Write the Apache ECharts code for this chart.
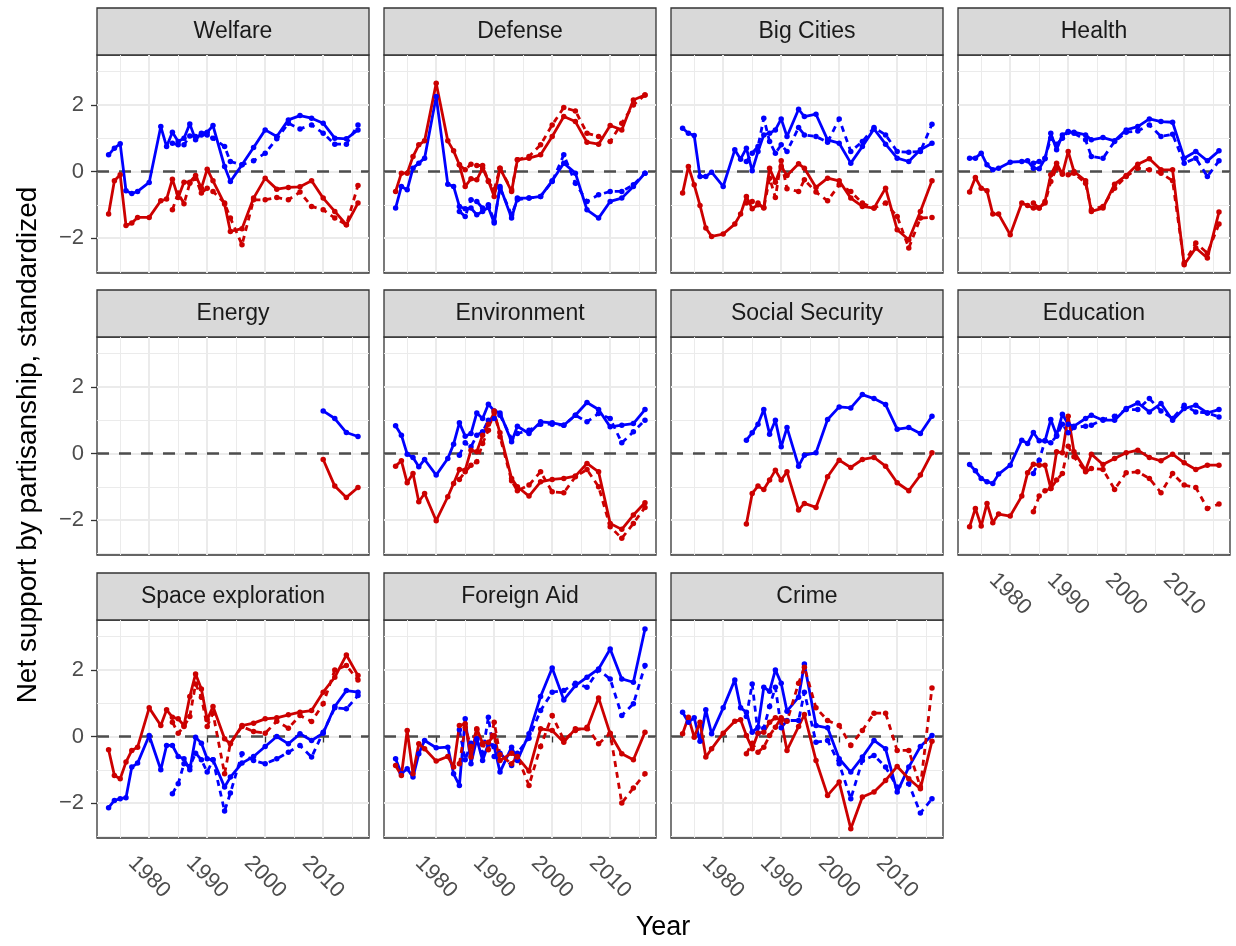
<!DOCTYPE html>
<html>
<head>
<meta charset="utf-8">
<script src="https://cdn.jsdelivr.net/npm/echarts@6/dist/echarts.min.js"></script>
<style>
  html, body { margin: 0; padding: 0; background: #ffffff; }
  #chart { width: 1236px; height: 946px; }
</style>
</head>
<body>
<div id="chart"></div>
<script>
// Survey years (main wording) and years with the alternate wording
const years = [1973,1974,1975,1976,1977,1978,1980,1982,1983,1984,1985,1986,1987,1988,1989,1990,1991,1993,1994,1996,1998,2000,2002,2004,2006,2008,2010,2012,2014,2016];
const altYears = [1984,1985,1986,1987,1988,1989,1990,1991,1993,1994,1996,1998,2000,2002,2004,2006,2008,2010,2012,2014,2016];
const energyYears = [2010,2012,2014,2016];
const socialSecurityYears = [1984,1985,1986,1987,1988,1989,1990,1991,1993,1994,1996,1998,2000,2002,2004,2006,2008,2010,2012,2014,2016];

// Tick labels
const xTickYears = [1980,1990,2000,2010];
const xMinorYears = [1975,1985,1995,2005,2015];
const yTicks = [-2,0,2];
const yMinorTicks = [-3,-1,1,3];

// Welfare
const welfareDem = [0.5,0.7,0.83,-0.58,-0.66,-0.6,-0.33,1.35,0.75,1.18,0.9,1.0,1.43,0.95,1.15,1.18,1.38,0.15,-0.3,0.2,0.72,1.25,1.05,1.55,1.68,1.6,1.45,1.0,0.98,1.25];
const welfareDemAlt = [0.85,0.8,0.8,1.07,1.05,1.1,1.1,1.0,0.75,0.3,0.2,0.32,0.55,0.98,1.45,1.28,1.4,1.15,0.82,0.82,1.4];
const welfareRep = [-1.28,-0.28,-0.1,-1.62,-1.55,-1.38,-1.38,-0.88,-0.83,-0.23,-0.78,-0.32,-0.32,-0.12,-0.5,0.07,-0.28,-0.98,-1.8,-1.72,-0.8,-0.2,-0.53,-0.48,-0.46,-0.28,-0.8,-1.2,-1.6,-0.95];
const welfareRepAlt = [-1.15,-0.65,-0.97,-0.35,-0.2,-0.65,-0.5,-0.6,-0.95,-1.4,-2.2,-0.85,-0.85,-0.78,-0.85,-0.62,-1.05,-1.15,-1.4,-1.6,-0.42];

// Defense
const defenseDem = [-1.1,-0.45,-0.55,0.1,0.25,0.4,2.25,-0.38,-0.45,-1.05,-1.12,-1.1,-1.3,-1.2,-1.08,-1.55,-0.45,-1.4,-0.8,-0.8,-0.75,-0.28,0.25,-0.05,-1.15,-1.4,-0.9,-0.8,-0.45,-0.05];
const defenseDemAlt = [-1.2,-1.35,-0.85,-0.9,-1.1,-1.0,-1.5,-0.5,-1.3,-0.85,-0.8,-0.75,-0.3,0.5,-0.35,-0.9,-0.7,-0.6,-0.6,-0.4,-0.05];
const defenseRep = [-0.6,-0.05,-0.05,0.45,0.8,0.92,2.65,0.92,0.62,0.2,-0.45,-0.22,-0.25,0.1,-0.28,-0.75,0.1,-0.6,0.35,0.4,0.5,1.05,1.65,1.5,0.88,0.82,1.38,1.25,2.15,2.3];
const defenseRepAlt = [0.2,0.05,0.22,0.18,0.18,-0.3,-0.55,0.1,-0.55,0.35,0.45,0.8,1.4,1.92,1.82,1.15,1.05,0.9,1.45,2.0,2.3];

// Big Cities
const bigCitiesDem = [1.3,1.15,1.08,-0.15,-0.15,-0.02,-0.45,0.65,0.37,0.7,0.02,0.6,1.1,1.15,1.25,1.58,1.05,1.87,1.65,1.72,0.95,0.85,0.25,0.75,1.28,0.82,0.4,0.3,0.65,0.85];
const bigCitiesDemAlt = [0.3,0.55,0.75,1.6,0.9,0.55,0.8,0.6,1.32,1.1,1.05,0.88,1.58,0.6,0.9,1.32,1.1,0.6,0.58,0.6,1.42];
const bigCitiesRep = [-0.65,0.15,-0.4,-1.02,-1.7,-1.95,-1.88,-1.58,-1.28,-0.75,-1.12,-1.0,-1.08,0.1,-0.32,0.15,-0.12,0.23,0.1,-0.48,-0.2,-0.28,-0.8,-1.05,-1.1,-0.5,-1.75,-2.05,-1.2,-0.28];
const bigCitiesRepAlt = [-0.95,-0.9,-0.95,-1.1,-0.2,-0.78,0.32,-0.52,-0.6,-0.25,-0.62,-0.88,-0.4,-0.6,-0.95,-1.1,-0.95,-1.35,-2.3,-1.4,-1.38];

// Health
const healthDem = [0.4,0.4,0.55,0.2,0.05,0.1,0.28,0.3,0.32,0.1,0.08,0.38,1.15,0.65,1.1,1.18,1.18,1.1,0.95,1.02,0.92,1.25,1.35,1.58,1.5,1.48,0.4,0.6,0.32,0.62];
const healthDemAlt = [0.25,0.3,0.4,1.0,0.82,1.0,1.2,1.15,0.95,0.45,0.4,0.9,1.18,1.22,1.4,1.05,1.12,0.25,0.4,-0.15,0.32];
const healthRep = [-0.62,-0.18,-0.5,-0.58,-1.28,-1.28,-1.9,-0.95,-1.02,-1.1,-1.1,-0.9,-0.1,0.25,-0.08,0.6,0.0,-0.28,-1.2,-1.1,-0.38,-0.12,0.22,0.38,0.05,0.05,-2.8,-2.3,-2.6,-1.22];
const healthRepAlt = [-0.95,-1.1,-0.95,-0.3,0.1,-0.05,-0.1,-0.05,-0.35,-1.15,-1.05,-0.5,-0.15,0.1,0.05,-0.05,-0.28,-2.75,-2.15,-2.45,-1.58];

// Energy
const energyDem = [1.28,1.05,0.63,0.51];
const energyRep = [-0.18,-0.98,-1.32,-1.02];

// Environment
const environmentDem = [0.83,0.55,-0.02,-0.12,-0.4,-0.18,-0.65,-0.15,0.28,0.92,0.52,0.6,1.22,1.05,1.48,1.28,1.22,0.35,0.82,0.6,0.95,0.92,0.85,1.15,1.53,1.32,0.8,0.85,0.9,1.32];
const environmentDemAlt = [-0.05,0.32,0.2,0.55,0.65,1.0,1.05,1.15,0.45,0.6,0.7,0.88,0.88,0.85,1.15,0.95,1.2,1.05,0.32,0.65,1.0];
const environmentRep = [-0.38,-0.22,-0.88,-0.6,-1.45,-1.2,-2.02,-1.3,-0.9,-0.48,-0.5,0.1,0.05,0.55,0.88,1.22,0.62,-0.75,-1.0,-1.28,-0.85,-0.78,-0.75,-0.68,-0.3,-0.55,-2.1,-2.28,-1.85,-1.48];
const environmentRepAlt = [-0.78,-0.55,-0.35,-0.25,0.3,0.7,1.28,0.5,-0.82,-1.12,-0.95,-0.55,-1.15,-1.18,-0.7,-0.48,-1.0,-2.2,-2.55,-2.1,-1.62];

// Social Security
const socialSecurityDem = [0.4,0.62,0.88,1.32,0.58,1.0,0.2,0.78,-0.38,-0.05,0.02,1.02,1.4,1.37,1.77,1.65,1.47,0.73,0.78,0.6,1.12];
const socialSecurityRep = [-2.12,-1.2,-0.98,-1.08,-0.8,-0.5,-0.8,-0.55,-1.7,-1.5,-1.62,-0.7,-0.2,-0.42,-0.18,-0.12,-0.38,-0.88,-1.12,-0.65,0.02];

// Education
const educationDem = [-0.33,-0.52,-0.75,-0.85,-0.9,-0.62,-0.35,0.4,0.3,0.63,0.38,0.38,1.02,0.55,1.18,0.88,0.82,1.05,1.15,1.0,1.0,1.35,1.52,1.25,1.5,1.0,1.35,1.45,1.22,1.32];
const educationDemAlt = [-0.6,-0.2,0.38,0.32,0.52,0.88,0.62,0.78,0.82,0.85,1.02,1.12,1.32,1.32,1.65,1.28,1.05,1.45,1.25,1.22,1.1];
const educationRep = [-2.2,-1.65,-2.18,-1.5,-2.08,-1.82,-1.88,-1.28,-0.58,-0.32,-0.35,-0.35,-1.05,0.05,0.02,1.12,0.05,-0.5,-0.02,-0.33,-0.15,0.02,0.1,-0.12,-0.22,-0.02,-0.28,-0.48,-0.35,-0.35];
const educationRepAlt = [-1.75,-1.28,-1.12,-1.05,-0.8,-0.6,0.22,-0.1,-0.55,-0.45,-0.48,-1.08,-0.58,-0.55,-0.75,-1.18,-0.6,-0.95,-1.02,-1.65,-1.52];

// Space exploration
const spaceDem = [-2.14,-1.92,-1.87,-1.84,-0.92,-0.8,0.03,-1.0,-0.27,-0.27,-0.6,-0.67,-1.0,-0.02,-0.2,-0.67,-0.7,-1.52,-1.22,-0.8,-0.6,-0.3,0.0,-0.22,0.08,-0.12,0.1,0.9,1.38,1.33];
const spaceDemAlt = [-1.72,-1.42,-0.82,-0.9,-0.5,-0.7,-1.07,-0.7,-2.24,-1.7,-0.52,-0.72,-0.82,-0.67,-0.47,-0.27,-0.62,0.13,0.86,0.83,1.23];
const spaceRep = [-0.4,-1.17,-1.27,-0.77,-0.42,-0.32,0.86,0.33,0.8,0.58,0.53,0.33,1.2,1.88,1.43,0.5,0.9,-0.07,-0.22,0.33,0.4,0.53,0.56,0.65,0.73,0.78,1.33,1.78,2.45,1.83];
const spaceRepAlt = [0.43,0.1,0.3,0.6,1.58,1.18,0.3,0.7,-1.12,-0.2,0.3,0.15,0.1,0.46,0.25,0.63,0.45,0.98,2.0,2.13,1.7];

// Foreign Aid
const foreignAidDem = [-0.67,-1.12,-0.97,-1.22,-0.52,-0.12,-0.34,-0.32,-1.12,-1.47,0.53,-0.82,-0.07,-0.72,-0.22,-0.3,-1.07,-0.32,-0.72,0.08,1.2,2.06,1.1,1.53,1.78,2.03,2.63,1.73,1.63,3.23];
const foreignAidDemAlt = [0.2,-0.7,-0.2,-0.1,-0.5,0.58,-0.6,-0.5,-0.87,-0.5,-0.05,0.78,1.33,1.38,1.6,1.48,2.0,1.73,0.63,0.98,2.13];
const foreignAidRep = [-0.87,-1.17,0.18,-1.12,-0.22,-0.37,-0.74,-0.6,-0.92,0.33,0.38,-0.62,0.23,-0.2,-0.17,0.03,-0.72,-0.5,-0.62,-1.04,0.23,0.18,-0.17,0.23,0.23,1.16,0.08,-0.52,-0.7,0.13];
const foreignAidRepAlt = [-0.82,0.28,-0.3,0.2,-0.25,-0.4,0.43,-0.55,-0.82,-0.6,-1.47,-0.3,0.63,-0.1,0.18,0.28,-0.22,0.1,-2.0,-1.55,-1.12];

// Crime
const crimeDem = [0.73,0.43,0.56,-0.14,0.8,0.08,0.86,1.7,0.86,0.73,0.13,0.28,1.48,1.36,2.0,1.6,0.76,1.18,2.18,0.33,0.26,-0.67,-1.07,-0.62,-0.12,-0.37,-1.67,-0.92,-0.3,0.03];
const crimeDemAlt = [0.6,1.58,0.1,0.25,0.9,1.48,0.26,0.48,0.48,1.33,-0.17,-0.12,-0.82,-1.87,-0.72,-0.57,-0.92,-1.52,-1.42,-2.3,-1.87];
const crimeRep = [0.08,0.58,-0.02,0.43,-0.62,-0.37,0.1,0.46,0.5,0.03,-0.37,0.1,0.13,0.43,0.56,0.48,-0.42,0.3,0.66,-0.72,-1.77,-1.37,-2.77,-1.82,-1.67,-1.32,-0.9,-1.27,-1.57,-0.14];
const crimeRepAlt = [-0.52,-0.2,-0.47,-0.32,0.03,0.28,0.56,0.46,1.6,2.08,0.86,0.48,0.33,-0.27,0.18,0.7,0.7,-0.42,-0.42,-1.52,1.46];

const panels = [
  { name: 'Welfare', years, dem: welfareDem, demAlt: welfareDemAlt, rep: welfareRep, repAlt: welfareRepAlt },
  { name: 'Defense', years, dem: defenseDem, demAlt: defenseDemAlt, rep: defenseRep, repAlt: defenseRepAlt },
  { name: 'Big Cities', years, dem: bigCitiesDem, demAlt: bigCitiesDemAlt, rep: bigCitiesRep, repAlt: bigCitiesRepAlt },
  { name: 'Health', years, dem: healthDem, demAlt: healthDemAlt, rep: healthRep, repAlt: healthRepAlt },
  { name: 'Energy', years: energyYears, dem: energyDem, rep: energyRep },
  { name: 'Environment', years, dem: environmentDem, demAlt: environmentDemAlt, rep: environmentRep, repAlt: environmentRepAlt },
  { name: 'Social Security', years: socialSecurityYears, dem: socialSecurityDem, rep: socialSecurityRep },
  { name: 'Education', years, dem: educationDem, demAlt: educationDemAlt, rep: educationRep, repAlt: educationRepAlt },
  { name: 'Space exploration', years, dem: spaceDem, demAlt: spaceDemAlt, rep: spaceRep, repAlt: spaceRepAlt },
  { name: 'Foreign Aid', years, dem: foreignAidDem, demAlt: foreignAidDemAlt, rep: foreignAidRep, repAlt: foreignAidRepAlt },
  { name: 'Crime', years, dem: crimeDem, demAlt: crimeDemAlt, rep: crimeRep, repAlt: crimeRepAlt }
];

// Layout and styling
const FONT = '"Liberation Sans", Arial, Helvetica, sans-serif';
const BLUE = '#0000FF';
const RED = '#CC0000';
const X_MIN = 1971.0, X_MAX = 2017.9;
const Y_MIN = -3.05, Y_MAX = 3.5;
const COL_LEFT = [97, 384, 671, 958];
const ROW_TOP = [55, 337, 620];
const PANEL_W = 272, PANEL_H = 218, STRIP_H = 47;

const fmtNum = v => (v < 0 ? '\u2212' + Math.abs(v) : String(v));
const pairs = (xs, ys) => xs.map((x, k) => [x, ys[k]]);

const grid = [], xAxis = [], yAxis = [], series = [], graphic = [];

panels.forEach((p, i) => {
  const col = i % 4, row = Math.floor(i / 4);
  const left = COL_LEFT[col], top = ROW_TOP[row];
  const showX = row === 2 || (row === 1 && col === 3);
  const showY = col === 0;

  grid.push({
    left, top, width: PANEL_W, height: PANEL_H,
    show: true, backgroundColor: '#FFFFFF', borderColor: '#333333', borderWidth: 1.3,
    containLabel: false, outerBoundsMode: 'none'
  });

  // major x axis: data, ticks, labels, major grid
  xAxis.push({
    type: 'value', gridIndex: i, min: X_MIN, max: X_MAX,
    axisLine: { show: false },
    axisTick: { show: showX, length: 6, customValues: xTickYears, lineStyle: { color: '#333333', width: 1.3 } },
    axisLabel: {
      show: showX, customValues: xTickYears, rotate: -45, align: 'center', verticalAlign: 'middle',
      margin: 39, color: '#4D4D4D', fontSize: 22, fontFamily: FONT, formatter: v => String(v)
    },
    splitLine: { show: true, lineStyle: { color: '#EBEBEB', width: 2 } }
  });
  // minor x grid
  xAxis.push({
    type: 'value', gridIndex: i, min: X_MIN, max: X_MAX,
    axisLine: { show: false },
    axisTick: { show: false, customValues: xMinorYears },
    axisLabel: { show: false, customValues: xMinorYears },
    splitLine: { show: true, lineStyle: { color: '#EBEBEB', width: 1 } }
  });
  // major y axis
  yAxis.push({
    type: 'value', gridIndex: i, min: Y_MIN, max: Y_MAX,
    axisLine: { show: false },
    axisTick: { show: showY, length: 6, customValues: yTicks, lineStyle: { color: '#333333', width: 1.3 } },
    axisLabel: {
      show: showY, customValues: yTicks, margin: 13, color: '#4D4D4D', fontSize: 22, fontFamily: FONT,
      formatter: fmtNum
    },
    splitLine: { show: true, lineStyle: { color: '#EBEBEB', width: 2 } }
  });
  // minor y grid
  yAxis.push({
    type: 'value', gridIndex: i, min: Y_MIN, max: Y_MAX,
    axisLine: { show: false },
    axisTick: { show: false, customValues: yMinorTicks },
    axisLabel: { show: false, customValues: yMinorTicks },
    splitLine: { show: true, lineStyle: { color: '#EBEBEB', width: 1 } }
  });

  const xi = 2 * i, yi = 2 * i;

  // dashed reference line at zero
  series.push({
    type: 'line', xAxisIndex: xi, yAxisIndex: yi, data: [], silent: true, z: 1,
    markLine: {
      silent: true, symbol: 'none', z: 1, animation: false,
      label: { show: false },
      lineStyle: { color: '#4D4D4D', width: 2.6, type: [12, 10] },
      data: [{ yAxis: 0 }]
    }
  });

  const addLine = (xs, ys, color, dashed) => {
    series.push({
      type: 'line', xAxisIndex: xi, yAxisIndex: yi, z: 3,
      data: pairs(xs, ys),
      symbol: 'circle', symbolSize: 5.5, showSymbol: true,
      lineStyle: { color, width: 2.8, type: dashed ? [6, 5] : 'solid' },
      itemStyle: { color, borderWidth: 0 },
      emphasis: { disabled: true },
      animation: false
    });
  };
  if (p.demAlt) addLine(altYears, p.demAlt, BLUE, true);
  addLine(p.years, p.dem, BLUE, false);
  if (p.repAlt) addLine(altYears, p.repAlt, RED, true);
  addLine(p.years, p.rep, RED, false);

  // facet strip
  graphic.push({
    type: 'rect', silent: true,
    shape: { x: left, y: top - STRIP_H, width: PANEL_W, height: STRIP_H },
    style: { fill: '#D9D9D9', stroke: '#333333', lineWidth: 1.3 }
  });
  graphic.push({
    type: 'text', silent: true,
    style: {
      text: p.name, x: left + PANEL_W / 2, y: top - STRIP_H / 2,
      align: 'center', verticalAlign: 'middle',
      fill: '#1A1A1A', font: '23px ' + FONT
    }
  });
});

// axis titles
graphic.push({
  type: 'text', silent: true,
  style: { text: 'Year', x: 663, y: 928, align: 'center', verticalAlign: 'middle', fill: '#000000', font: '27px ' + FONT }
});
graphic.push({
  type: 'text', silent: true, x: 28, y: 445, rotation: Math.PI / 2,
  style: { text: 'Net support by partisanship, standardized', x: 0, y: 0, align: 'center', verticalAlign: 'middle', fill: '#000000', font: '28px ' + FONT }
});

const chart = echarts.init(document.getElementById('chart'), null, { renderer: 'canvas' });
chart.setOption({
  animation: false,
  backgroundColor: '#FFFFFF',
  grid, xAxis, yAxis, series, graphic
});
</script>
</body>
</html>
